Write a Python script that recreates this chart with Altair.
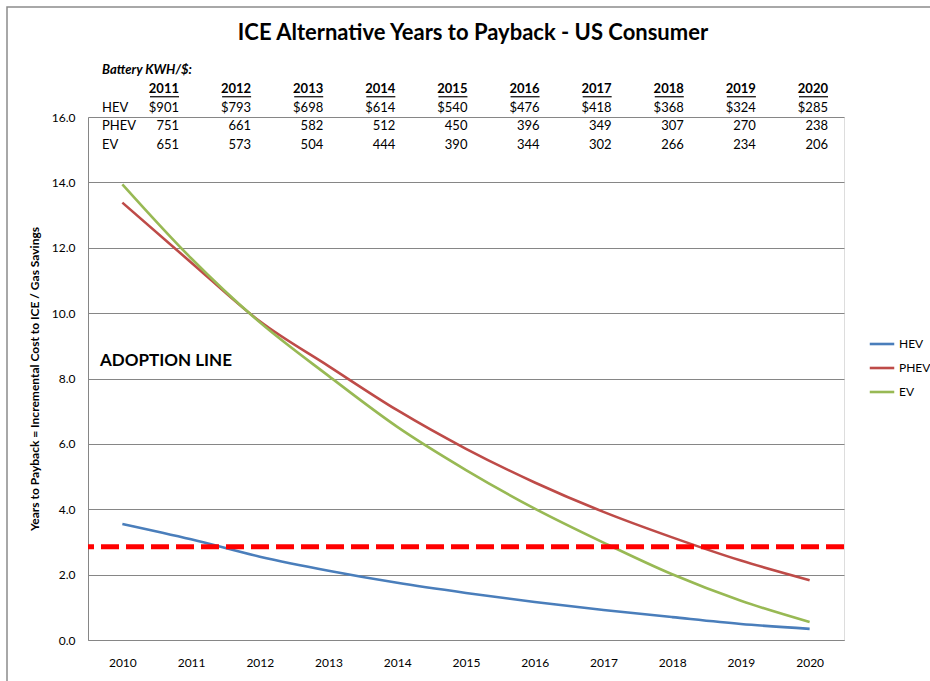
import altair as alt
import pandas as pd

# Years to payback, by powertrain
years = list(range(2010, 2021))
hev = [3.55, 3.08, 2.55, 2.12, 1.75, 1.44, 1.16, 0.92, 0.70, 0.49, 0.34]
phev = [13.38, 11.55, 9.75, 8.38, 7.03, 5.85, 4.82, 3.92, 3.14, 2.43, 1.83]
ev = [13.94, 11.68, 9.72, 8.08, 6.52, 5.20, 4.02, 2.98, 2.01, 1.20, 0.55]
adoption_line = 2.85

# Battery cost table ($ per kWh)
table_years = list(range(2011, 2021))
hev_cost = [901, 793, 698, 614, 540, 476, 418, 368, 324, 285]
phev_cost = [751, 661, 582, 512, 450, 396, 349, 307, 270, 238]
ev_cost = [651, 573, 504, 444, 390, 344, 302, 266, 234, 206]

chart_title = "ICE Alternative Years to Payback - US Consumer"
series_names = ["HEV", "PHEV", "EV"]
series_colors = ["#4a7ebb", "#be4b48", "#98b954"]
FONT = "Lato"

lines_df = pd.DataFrame({
    "year": years * 3,
    "value": hev + phev + ev,
    "series": ["HEV"] * len(years) + ["PHEV"] * len(years) + ["EV"] * len(years),
})

cells = []
for name, costs, prefix in [("HEV", hev_cost, "$"), ("PHEV", phev_cost, ""), ("EV", ev_cost, "")]:
    for y, c in zip(table_years, costs):
        cells.append({"year": y, "row": name, "text": f"{prefix}{c}"})
table_df = pd.DataFrame(cells)
header_df = pd.DataFrame({"year": table_years, "row": ["hdr"] * len(table_years),
                          "text": [str(y) for y in table_years]})
row_labels_df = pd.DataFrame({"row": ["HEV", "PHEV", "EV"], "text": ["HEV", "PHEV", "EV"]})
caption_df = pd.DataFrame({"row": ["title"], "text": ["Battery KWH/$:"]})

x_years = alt.X("year:O", scale=alt.Scale(type="point", padding=0.5),
                axis=alt.Axis(title=None, labelAngle=0, labelFontSize=12, labelPadding=17,
                              ticks=False, grid=False, domainColor="#868686",
                              labelColor="#000000", labelFont=FONT))

lines = alt.Chart(lines_df).mark_line(strokeWidth=2.6, interpolate="monotone").encode(
    x=x_years,
    y=alt.Y("value:Q", scale=alt.Scale(domain=[0, 16], nice=False),
            axis=alt.Axis(title="Years to Payback  = Incremental Cost to ICE / Gas Savings",
                          values=list(range(0, 17, 2)), format=".1f", ticks=False,
                          labelFontSize=12, labelPadding=13, labelColor="#000000",
                          labelFont=FONT, domainColor="#868686", gridColor="#868686",
                          titleFont=FONT, titleFontSize=12, titleFontWeight="bold",
                          titleColor="#000000", titlePadding=10)),
    color=alt.Color("series:N", scale=alt.Scale(domain=series_names, range=series_colors),
                    legend=alt.Legend(title=None, orient="none", legendX=780, legendY=213,
                                      symbolType="stroke", symbolSize=600,
                                      symbolStrokeWidth=2.6, labelFontSize=12,
                                      labelFont=FONT, labelColor="#000000",
                                      labelOffset=3, rowPadding=4)),
    detail="series:N",
)

adoption = alt.Chart(pd.DataFrame({"level": [adoption_line]})).mark_rule(
    color="#ff0000", strokeWidth=5, strokeDash=[18, 7]
).encode(y="level:Q")

adoption_label = alt.Chart(pd.DataFrame({"label": ["ADOPTION LINE"], "level": [8.55]})).mark_text(
    align="left", baseline="middle", font=FONT, fontSize=17, fontWeight="bold", color="#000000"
).encode(x=alt.value(12), y="level:Q", text="label:N")

# outer chart frame and heading
frame = alt.Chart(pd.DataFrame({"k": [0]})).mark_rect(
    filled=False, stroke="#8c8c8c", strokeWidth=1.5
).encode(x=alt.value(-81), x2=alt.value(900), y=alt.value(-110), y2=alt.value(700))

heading = alt.Chart(pd.DataFrame({"t": [chart_title]})).mark_text(
    align="center", baseline="middle", font=FONT, fontSize=22, fontWeight="bold", color="#000000"
).encode(x=alt.value(385), y=alt.value(-84), text="t:N")

plot = alt.layer(frame, heading, lines, adoption, adoption_label)

# table above the plot
row_order = ["title", "hdr", "HEV", "PHEV", "EV"]
x_table = alt.X("year:Q", scale=alt.Scale(domain=[2011, 2020], range=[91, 740]), axis=None)
y_table = alt.Y("row:N", scale=alt.Scale(type="point", domain=row_order, range=[-47, 28], padding=0),
                axis=None)

table_text = alt.Chart(table_df).mark_text(
    align="right", baseline="middle", font=FONT, fontSize=13, color="#000000"
).encode(x=x_table, y=y_table, text="text:N")
header_text = alt.Chart(header_df).mark_text(
    align="right", baseline="middle", font=FONT, fontSize=13, fontWeight="bold", color="#000000"
).encode(x=x_table, y=y_table, text="text:N")
underline = alt.Chart(header_df).mark_rule(
    color="#000000", strokeWidth=1.2, xOffset=-29, yOffset=8, y2Offset=8
).encode(x=x_table, x2="year:Q", y=y_table)
row_labels = alt.Chart(row_labels_df).mark_text(
    align="left", baseline="middle", font=FONT, fontSize=13, color="#000000"
).encode(x=alt.value(14), y=y_table, text="text:N")
caption = alt.Chart(caption_df).mark_text(
    align="left", baseline="middle", font=FONT, fontSize=13, fontWeight="bold",
    fontStyle="italic", color="#000000"
).encode(x=alt.value(14), y=y_table, text="text:N")
table = alt.layer(table_text, header_text, underline, row_labels, caption)

chart = alt.layer(plot, table).resolve_scale(x="independent", y="independent").properties(
    width=756, height=523,
    padding={"left": 88, "top": 117, "right": 86, "bottom": 41},
    autosize=alt.AutoSizeParams(type="none"),
).configure_view(stroke=None).configure(background="#ffffff")

chart.save("out.html", embed_options={"renderer": "svg", "actions": False})
